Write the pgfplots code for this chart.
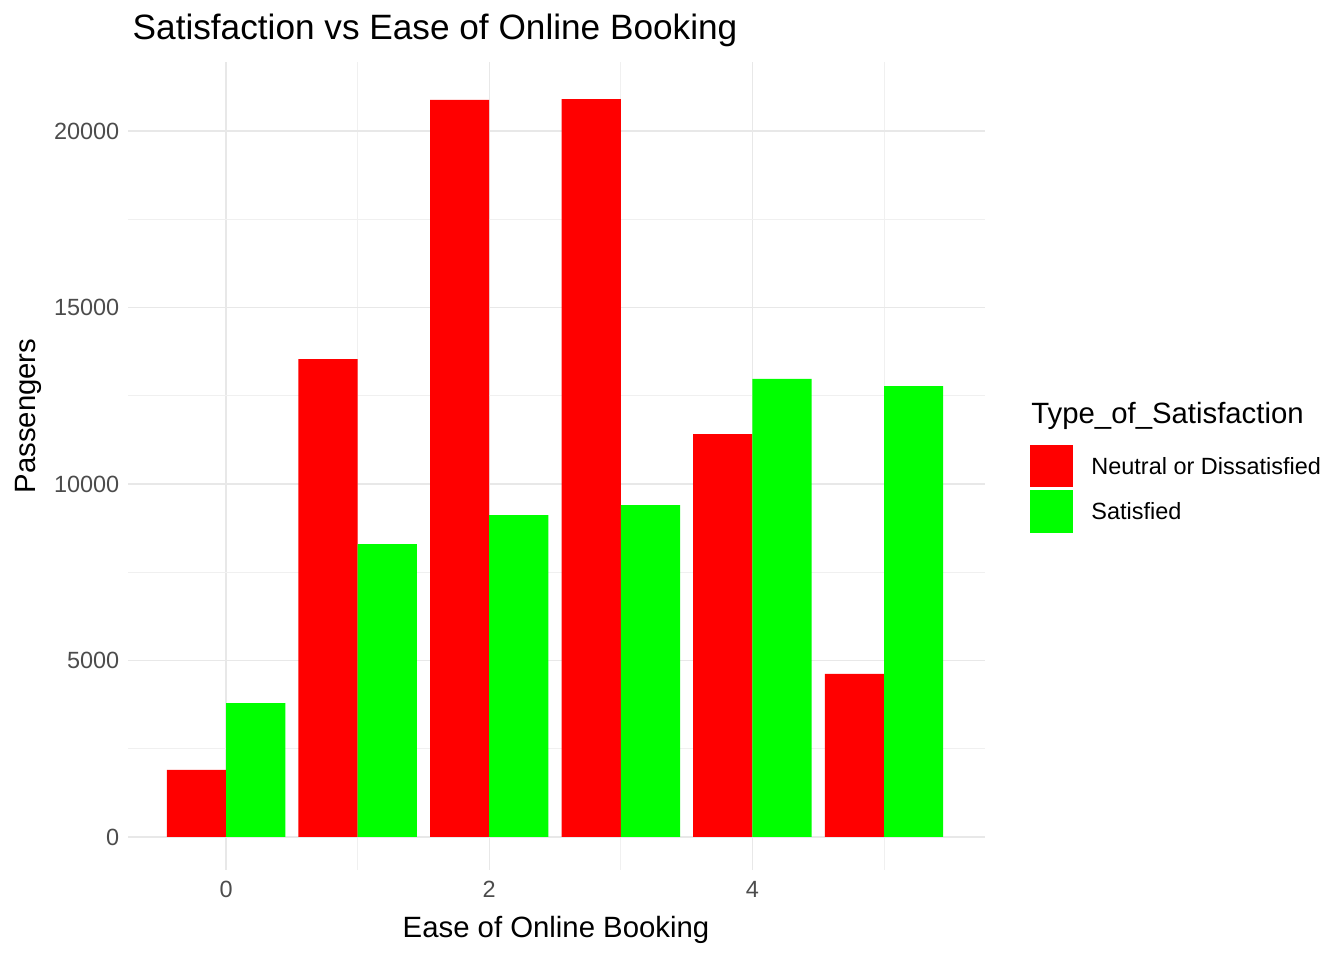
\documentclass[border=0pt]{standalone}
\usepackage{pgfplots}
\pgfplotsset{compat=1.18}
\usepackage{fontspec}
\setmainfont{Liberation Sans}
\definecolor{ggred}{RGB}{255,0,0}
\definecolor{gggreen}{RGB}{0,255,0}
\begin{document}
\begin{tikzpicture}[x=1pt,y=1pt]
\path (0,0) rectangle (1008,720);
\begin{axis}[at={(96pt,67.5pt)},anchor=south west,
 scale only axis, width=643pt, height=606pt,
 xmin=-0.745, xmax=5.77, ymin=-935, ymax=21955,
 axis line style={draw=none},
 major tick length=0pt, minor tick length=0pt,
 xtick={0,2,4}, minor xtick={1,3,5},
 ytick={0,5000,10000,15000,20000}, minor ytick={2500,7500,12500,17500},
 grid=both,
 major grid style={draw=black!9,line width=0.9pt},
 minor grid style={draw=black!6,line width=0.5pt},
 scaled ticks=false,
 /pgf/number format/1000 sep={},
 /pgf/number format/assume math mode=true,
 tick label style={font=\fontsize{17.6}{20}\selectfont, text=black!70},
 xticklabel style={yshift=-5pt},
 yticklabel style={xshift=-3pt},
 ybar, bar width=0.45,
]
\addplot[fill=ggred, draw=none, bar shift=-0.225]
 coordinates {(0,1900) (1,13540) (2,20880) (3,20905) (4,11415) (5,4620)};
\addplot[fill=gggreen, draw=none, bar shift=0.225]
 coordinates {(0,3795) (1,8300) (2,9120) (3,9405) (4,12975) (5,12775)};
\end{axis}
\node[anchor=west,font=\fontsize{26.4}{30}\selectfont] at (96,697.5) {Satisfaction vs Ease of Online Booking};
\node[rotate=90,font=\fontsize{22}{26}\selectfont] at (21,408) {Passengers};
\node[font=\fontsize{22}{26}\selectfont] at (417,22.5) {Ease of Online Booking};
\node[anchor=west,font=\fontsize{22}{26}\selectfont] at (770,408) {Type\_of\_Satisfaction};
\fill[ggred] (772.5,354.75) rectangle (805,386.25);
\fill[gggreen] (772.5,320.25) rectangle (805,352.5);
\node[anchor=west,font=\fontsize{17.6}{20}\selectfont] at (815,370.5) {Neutral or Dissatisfied};
\node[anchor=west,font=\fontsize{17.6}{20}\selectfont] at (815,336.4) {Satisfied};
\end{tikzpicture}
\end{document}
